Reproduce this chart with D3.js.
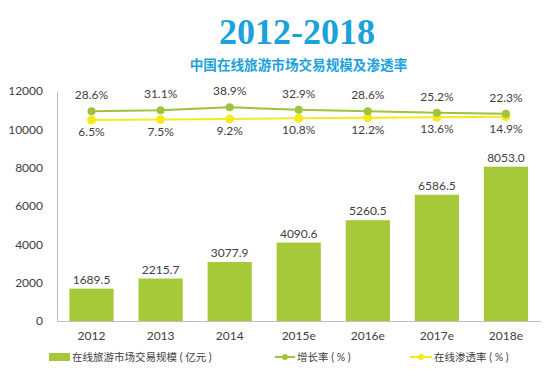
<!DOCTYPE html>
<html><head><meta charset="utf-8">
<script src="https://cdn.jsdelivr.net/npm/d3@7"></script>
<style>body{margin:0;background:#fff;}svg{display:block;}</style>
</head><body>
<svg id="c" width="553" height="374"></svg>
<script>
const categories = ["2012","2013","2014","2015e","2016e","2017e","2018e"];
const marketSize = [1689.5,2215.7,3077.9,4090.6,5260.5,6586.5,8053.0];
const growthRate = [28.6,31.1,38.9,32.9,28.6,25.2,22.3];
const penetration = [6.5,7.5,9.2,10.8,12.2,13.6,14.9];
const yTicks = [0,2000,4000,6000,8000,10000,12000];
const legendLabels = ["在线旅游市场交易规模 ( 亿元 )","增长率 ( % )","在线渗透率 ( % )"];
const title = "2012-2018";
const subtitle = "中国在线旅游市场交易规模及渗透率";

const svg = d3.select("#c");
const font = "Lato, 'Noto Sans CJK SC', sans-serif";
const barColor = "#a6c93a", greenLine = "#9fc23f", yellowLine = "#f5ea1c", textColor = "#404040";

const x = d3.scaleBand().domain(categories).range([57, 540.5]).paddingInner(0.36).paddingOuter(0.18);
const y = d3.scaleLinear().domain([0,12000]).range([321, 91]);
const y2 = d3.scaleLinear().domain([0,100]).range([122.5, 83.5]);

svg.append("text").attr("x",297).attr("y",44).attr("text-anchor","middle")
  .attr("font-family","'Liberation Serif', serif").attr("font-weight","bold").attr("font-size",36)
  .attr("fill","#1ba1db").text(title);
svg.append("text").attr("x",298.5).attr("y",70).attr("text-anchor","middle")
  .attr("font-family","'Noto Sans CJK SC', sans-serif").attr("font-weight","bold").attr("font-size",13.6)
  .attr("fill","#1ba1db").text(subtitle);

// y axis
const yAxis = svg.append("g").attr("transform","translate(57,0)")
  .call(d3.axisLeft(y).tickValues(yTicks).tickSize(0).tickPadding(14).tickFormat(d3.format("d")));
yAxis.select(".domain").attr("stroke","#c0c0c0").attr("stroke-width",1);
yAxis.selectAll("text").attr("font-family",font).attr("font-size",12).attr("fill",textColor);

// x axis
const xAxis = svg.append("g").attr("transform","translate(0,321)")
  .call(d3.axisBottom(x).tickSize(0).tickPadding(10));
xAxis.select(".domain").attr("stroke","#c0c0c0").attr("stroke-width",1);
xAxis.selectAll("text").attr("font-family",font).attr("font-size",12).attr("fill",textColor);

// bars
svg.append("g").selectAll("rect").data(categories).join("rect")
  .attr("x",d=>x(d)).attr("width",x.bandwidth())
  .attr("y",(d,i)=>y(marketSize[i])).attr("height",(d,i)=>y(0)-y(marketSize[i]))
  .attr("fill",barColor);
svg.append("g").selectAll("text").data(categories).join("text")
  .attr("x",d=>x(d)+x.bandwidth()/2).attr("y",(d,i)=>y(marketSize[i])-5)
  .attr("text-anchor","middle").attr("font-family",font).attr("font-size",12).attr("fill",textColor)
  .text((d,i)=>marketSize[i].toFixed(1));

const cx = d => x(d)+x.bandwidth()/2;
function drawLine(vals, color, r, labelDy){
  const line = d3.line().x((d,i)=>cx(categories[i])).y(d=>y2(d));
  svg.append("path").datum(vals).attr("d",line).attr("fill","none").attr("stroke",color).attr("stroke-width",2);
  svg.append("g").selectAll("circle").data(vals).join("circle")
    .attr("cx",(d,i)=>cx(categories[i])).attr("cy",d=>y2(d)).attr("r",r).attr("fill",color);
  svg.append("g").selectAll("text").data(vals).join("text")
    .attr("x",(d,i)=>cx(categories[i])).attr("y",d=>y2(d)+labelDy)
    .attr("text-anchor","middle").attr("font-family",font).attr("font-size",12).attr("fill",textColor)
    .text(d=>d.toFixed(1)+"%");
}
drawLine(penetration, yellowLine, 4.5, 16);
drawLine(growthRate, greenLine, 4, -12);

// legend
const lg = svg.append("g");
const lfs = 10.5;
lg.append("rect").attr("x",49).attr("y",353).attr("width",21).attr("height",8).attr("fill",barColor);
lg.append("text").attr("x",72).attr("y",361).attr("font-family",font).attr("font-size",lfs).attr("fill",textColor).text(legendLabels[0]);
lg.append("line").attr("x1",275).attr("x2",295).attr("y1",357).attr("y2",357).attr("stroke",greenLine).attr("stroke-width",2);
lg.append("circle").attr("cx",285).attr("cy",357).attr("r",3).attr("fill",greenLine);
lg.append("text").attr("x",297).attr("y",361).attr("font-family",font).attr("font-size",lfs).attr("fill",textColor).text(legendLabels[1]);
lg.append("line").attr("x1",410).attr("x2",432).attr("y1",357).attr("y2",357).attr("stroke",yellowLine).attr("stroke-width",2);
lg.append("circle").attr("cx",421).attr("cy",357).attr("r",3).attr("fill",yellowLine);
lg.append("text").attr("x",434).attr("y",361).attr("font-family",font).attr("font-size",lfs).attr("fill",textColor).text(legendLabels[2]);
</script>
</body></html>
